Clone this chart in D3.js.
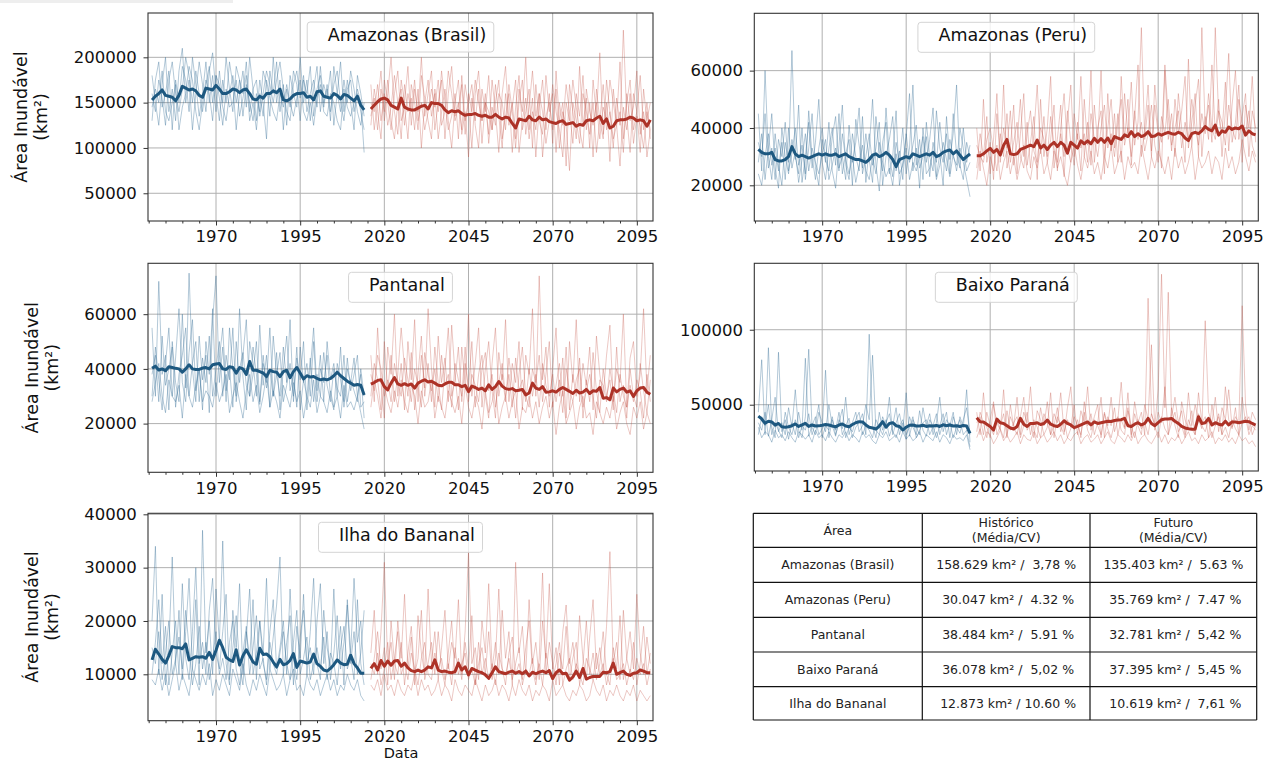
<!DOCTYPE html>
<html>
<head>
<meta charset="utf-8">
<script src="https://cdn.jsdelivr.net/npm/d3@7"></script>
<style>
  body { margin: 0; background: #fff; }
  text { font-family: "DejaVu Sans", sans-serif; }
</style>
</head>
<body>
<svg id="chart" width="1263" height="762"></svg>
<script>
// all values in thousand km²
const HIST_START = 1951, FUT_START = 2016;
const xMajor = [1970, 1995, 2020, 2045, 2070, 2095];
const xMinor = [1950, 1955, 1960, 1965, 1975, 1980, 1985, 1990, 2000, 2005, 2010, 2015,
  2025, 2030, 2035, 2040, 2050, 2055, 2060, 2065, 2075, 2080, 2085, 2090];

// --- Amazonas (Brasil)
const amzBrHist = [153,157,160,164,158,157,156,152,158,168,
  166,164,165,163,158,156,166,165,164,169,
  165,160,160,162,165,164,161,164,165,160,
  154,153,157,155,160,160,163,161,165,153,
  152,154,158,160,160,161,156,157,153,162,
  163,157,156,155,160,158,154,159,158,155,
  152,157,147,142];
const amzBrHistRuns = [
  [180,150,125,170,200,140,165,130,185,210,150,175,120,160,195,170,140,185,205,160,130,175,150,195,170,120,160,185,145,200,165,130,175,150,110,185,160,195,140,170,125,180,160,145,200,150,175,130,165,190,140,170,155,185,125,160,195,140,175,150,120,180,160,135],
  [130,175,195,145,160,185,120,175,150,190,175,140,200,170,135,160,195,150,180,140,185,150,200,165,140,190,175,135,170,150,130,160,140,185,170,135,200,150,175,120,165,145,185,170,130,175,160,190,135,165,180,145,170,130,190,160,140,175,150,185,165,140,125,150],
  [160,140,175,155,125,175,195,160,140,165,200,180,150,185,160,140,170,190,150,180,170,145,130,160,180,150,175,160,195,140,165,175,135,160,185,170,150,175,195,165,140,130,170,185,155,180,140,160,175,145,190,150,165,140,170,185,150,130,165,175,140,165,150,95],
  [145,165,150,185,140,130,150,170,120,145,160,190,175,140,120,150,175,160,130,180,155,125,165,145,150,175,135,155,180,130,150,120,160,135,175,155,140,130,160,145,170,150,135,155,175,140,130,150,125,155,170,140,135,160,150,130,120,165,145,135,150,160,140,120]
];
const amzBrFut = [143,147,151,154,155,153,147,145,143,155,
  145,143,142,142,144,146,147,143,150,149,
  149,147,142,139,141,140,141,138,136,137,
  137,138,136,135,136,134,134,137,134,132,
  134,133,127,122,132,131,130,135,131,130,
  134,131,132,129,128,127,129,130,126,127,
  128,124,126,125,130,131,130,133,135,127,
  132,122,124,130,131,131,132,134,133,130,
  131,130,124,131];
const amzBrFutRuns = [
  [170,120,150,185,130,160,200,140,115,175,150,190,125,165,140,200,135,160,185,120,150,175,110,160,190,135,150,120,170,145,100,160,185,130,150,115,175,140,95,160,190,130,150,110,165,140,200,120,155,90,145,175,120,160,105,185,130,150,80,170,140,110,190,125,155,100,175,135,205,115,150,85,165,130,195,110,150,175,120,140,95,165,130,150],
  [125,165,140,110,175,150,120,160,185,130,145,110,170,150,120,180,155,130,110,165,140,185,150,120,135,160,110,180,130,150,170,125,100,165,140,180,120,150,175,110,135,160,95,145,180,120,140,165,100,170,130,115,180,140,160,95,150,125,170,140,105,160,135,180,120,150,90,165,130,110,175,140,100,155,125,230,135,95,160,140,180,120,150,110],
  [150,140,170,130,160,125,145,180,150,110,170,140,155,120,165,100,150,175,135,160,110,140,165,130,100,150,175,115,140,90,155,130,165,105,150,140,120,170,135,100,160,125,145,175,95,130,155,110,140,120,160,90,135,150,120,165,100,140,125,75,150,130,105,160,140,115,150,95,130,170,120,140,110,125,80,145,120,160,105,135,125,100,140,120],
  [135,155,120,165,140,175,130,110,150,165,125,160,140,175,130,150,120,140,165,145,175,125,140,185,160,130,145,170,115,160,140,175,150,130,160,105,145,125,160,150,120,170,140,100,150,175,115,145,185,135,160,140,105,130,170,140,120,90,150,130,175,145,120,100,165,140,125,150,110,145,130,175,150,125,140,95,160,130,145,185,115,140,90,120]
];

// --- Amazonas (Peru)
const amzPeHist = [32.5,31.5,31,31,31.5,29,28.5,28.5,29,30,
  33.5,31,30,30.5,30,29.5,30,30.5,31,30.5,
  31,30.5,30.5,31,30,30.5,31,30,29.5,29,
  29,28.5,28,29,30.5,31,30,30.5,31.5,30.5,
  29,26.5,29,29.5,30,29.5,31,30.5,30,30.5,
  31,30.5,31.5,30,30.5,31.5,32,32.3,31,32,
  30.5,29,30,31];
const amzPeHistRuns = [
  [45,25,60,30,22,38,27,20,35,28,67,30,24,40,22,33,45,26,20,36,28,42,25,19,34,48,27,22,38,30,25,44,21,33,50,27,18,35,42,24,30,46,20,28,37,52,25,33,19,40,28,36,47,23,31,20,44,29,38,55,27,22,35,30],
  [28,38,22,33,45,26,19,40,30,24,36,29,48,21,30,42,26,35,50,28,22,33,40,27,45,24,31,36,20,43,34,26,38,29,21,44,32,25,47,30,23,35,28,40,24,33,55,27,36,22,42,30,25,46,33,28,38,24,45,31,26,40,28,34],
  [35,30,45,26,33,22,36,30,42,25,31,40,27,34,24,46,30,22,33,40,29,25,37,44,26,30,22,41,28,35,47,24,30,38,27,33,42,20,30,36,44,25,32,22,38,28,34,41,26,30,37,23,35,28,42,31,25,36,30,27,40,33,25,28],
  [24,20,30,38,27,33,25,35,22,40,26,32,21,29,38,25,33,28,24,31,36,22,27,33,25,38,29,24,30,21,27,34,25,22,30,24,35,28,23,26,20,31,24,27,33,22,28,25,30,37,24,26,32,22,27,35,29,23,31,25,33,28,22,16]
];
const amzPeFut = [30.3,30.3,31,32,32.9,31.5,32.5,30.6,34,36,
  31,30.7,31,32.5,33,33.5,34,33.5,35.8,33,
  34,32.5,34,35,33.5,35,34,31.2,35,34,
  33,35.5,34.5,35.5,34.5,36.4,35,36.3,35,36.5,
  34.5,37,36.5,36,37.6,37,38.7,37,38,37,
  37.5,38.7,37,37.2,38,37.5,38,38.5,38,37.8,
  38.5,38,36.5,35.6,38,38.5,38,39,40.5,39.5,
  39,41,37.5,39,38.5,40.3,39.5,40,39.7,40.7,
  37.5,39,38,37.6];
const amzPeFutRuns = [
  [40,25,50,28,35,22,45,30,55,26,33,48,24,38,52,27,35,44,22,50,30,40,58,26,36,48,23,42,55,30,38,25,50,34,60,28,40,46,24,52,32,45,28,58,36,50,27,44,62,30,40,55,32,48,38,26,60,36,45,30,52,40,28,64,34,48,57,30,44,36,62,38,50,30,46,66,35,42,55,28,48,40,58,35],
  [26,38,30,44,24,36,52,28,40,33,46,27,35,50,30,42,26,38,55,31,44,28,36,48,25,40,52,33,28,45,36,58,30,42,27,48,35,60,30,40,50,33,45,28,52,38,56,34,42,75,36,48,30,55,40,35,62,44,32,50,38,46,58,33,42,52,30,75,40,48,35,75,44,38,56,32,48,60,36,44,52,30,46,40],
  [34,30,28,36,40,32,25,38,30,45,28,35,42,30,26,38,46,32,28,40,36,30,44,33,28,38,30,46,35,27,42,33,38,28,45,36,30,40,48,33,38,30,42,50,34,40,30,46,36,42,32,38,48,34,28,44,38,50,34,40,46,33,42,36,50,40,34,45,38,52,40,36,46,42,34,48,40,36,50,42,38,46,34,30],
  [22,32,26,20,30,25,34,22,28,32,24,30,22,28,34,25,22,30,26,33,24,28,22,32,26,30,24,20,28,34,27,22,30,26,32,24,28,22,30,26,34,24,28,32,22,30,26,28,24,34,28,22,30,26,32,28,24,30,22,33,26,30,24,28,34,22,30,26,28,32,24,30,28,22,33,26,30,24,28,36,30,25,32,28]
];

// --- Pantanal
const pantHist = [40.2,41,39.6,40,39.3,40.8,40.5,40.2,40,38.8,
  40,41.5,40,39.8,39.8,40.3,40.5,40,41.5,41.8,
  42,40,39.8,40.8,40.5,38.4,40.5,40,38,42.7,
  39.5,39.5,39,38.5,37.2,39.5,39,38.8,37.2,39,
  39.5,36.8,39,40.5,38.5,36.3,37.5,37,37.2,36.5,
  36,36.3,36,36.5,37.5,38.8,37.5,36.5,35.5,34.8,
  34,34.3,34,30.5];
const pantHistRuns = [
  [55,30,72,38,45,25,50,35,28,60,33,75,40,28,52,36,45,24,58,74,35,48,28,55,40,30,62,37,25,50,42,30,56,34,45,26,52,38,30,48,35,58,28,44,36,50,25,40,55,32,45,28,50,36,42,30,48,26,40,35,44,30,38,22],
  [30,48,36,25,42,55,30,44,62,35,28,46,58,32,40,25,50,38,62,30,44,55,32,40,26,50,35,45,58,30,38,50,27,42,35,55,30,46,25,40,52,32,38,26,48,35,42,30,50,28,40,35,45,30,25,42,36,28,44,32,38,45,26,28],
  [38,45,28,52,34,40,48,26,38,45,55,30,42,50,28,44,35,52,30,40,50,30,45,36,55,28,40,46,34,30,48,38,28,45,33,40,30,38,46,28,34,42,30,48,25,36,30,44,28,38,30,46,34,28,40,33,30,45,28,36,32,28,40,30],
  [28,35,42,30,24,36,30,28,34,22,38,30,26,34,40,28,32,30,26,35,28,32,38,24,30,35,28,22,32,38,28,34,24,30,38,26,32,28,22,34,30,26,35,28,32,22,30,26,36,24,30,28,24,32,26,30,22,34,26,28,25,30,24,18]
];
const pantFut = [34.4,35,35.8,36,33.5,32.3,34.8,36.8,34.5,34,
  34.6,34,34.5,33,34.8,35.5,36,35.2,35.5,34.8,
  34,33.8,34.5,35.1,35.1,34.2,34.2,33.5,34,31.7,
  33.7,33.2,32.5,33,32,34.2,32.5,33.5,35.4,33.7,
  32.8,32.5,32.8,32,32.2,32.5,30.5,31.2,34.8,33,
  32.5,33.5,31.5,31.6,32,31.5,32.5,33.2,32.5,31.8,
  31,32.2,31.2,31.5,32.5,31,32,31.8,33.2,29.3,
  29.5,28.7,33,31.6,32.5,33,31.5,32,29.9,32,
  33,33.2,31.5,30.7];
const pantFutRuns = [
  [45,28,55,35,22,48,38,60,30,42,25,50,36,58,28,45,33,62,40,26,52,35,44,28,56,38,25,48,34,60,30,42,55,26,40,50,32,22,46,36,58,28,42,35,50,25,45,38,62,30,74,36,48,26,40,55,30,44,22,50,35,58,28,42,34,48,25,52,38,30,45,56,28,40,35,60,26,44,50,30,38,62,32,45],
  [30,42,36,25,50,32,45,28,38,55,40,30,46,25,38,52,30,42,28,48,35,25,40,55,30,36,48,28,42,33,50,26,38,45,30,22,42,55,30,38,28,44,34,22,38,48,30,26,40,35,45,28,38,50,26,34,42,30,48,25,38,30,44,22,36,28,46,32,24,40,30,36,25,48,28,34,22,40,30,26,42,32,24,36],
  [38,32,45,40,30,36,28,42,35,30,44,36,28,40,34,26,46,38,32,40,28,45,34,38,26,42,36,30,48,28,38,34,28,40,46,32,38,26,35,42,30,38,26,44,32,36,28,40,30,38,26,42,34,30,38,28,36,24,40,32,28,36,40,26,32,38,30,22,36,34,28,40,32,24,38,30,26,34,28,36,32,22,38,28],
  [26,36,30,22,34,28,24,32,26,36,28,24,34,30,20,32,26,28,36,22,30,26,22,32,28,24,30,20,34,26,22,30,26,18,32,24,28,34,20,26,30,22,28,32,18,26,24,30,22,28,20,26,30,22,28,16,26,32,20,24,28,18,26,30,22,24,16,28,24,20,26,22,30,18,24,28,20,16,26,22,28,18,24,20]
];

// --- Baixo Paraná
const bpHist = [42.4,40.5,37.6,39,38.5,36.4,37.5,35.3,35,35.3,
  36,37.2,35.5,36.5,37.6,35.5,36.5,35.8,35.9,36.3,
  36.8,36.5,35.8,35.2,36.5,37.2,35.8,35.3,36.8,38,
  38.7,38.5,36.5,35,34.5,33.8,35.8,38.7,35,37.5,
  38,36,35.5,33.1,35,36.3,36.5,35.8,35.8,36.3,
  35.5,36,35.8,36.2,35.5,36.6,36,36.5,35.8,36,
  35.5,36.2,35.8,30.9];
const bpHistRuns = [
  [45,80,30,88,35,28,85,32,40,27,38,30,45,33,81,29,36,42,30,34,73,28,40,33,45,30,36,41,28,35,38,44,30,97,36,28,45,33,40,29,36,48,30,38,27,42,35,30,46,33,29,40,36,44,30,38,45,28,42,35,31,40,48,30],
  [38,33,45,29,40,55,32,38,30,48,35,60,33,28,42,87,35,30,45,38,32,50,36,29,40,34,55,30,38,45,32,36,50,40,83,33,30,42,36,55,30,38,44,33,58,29,40,35,30,48,36,44,30,38,55,32,40,36,45,30,42,35,60,25],
  [30,42,36,50,30,38,33,28,45,35,30,40,28,36,33,44,30,38,50,28,36,33,42,30,38,47,28,35,32,40,45,30,36,33,28,40,35,30,38,44,32,28,36,40,30,35,42,28,33,38,40,30,35,28,36,44,30,38,28,35,40,30,33,22],
  [35,28,32,30,25,33,28,30,26,32,28,25,32,30,27,30,25,33,28,30,26,32,28,25,30,28,32,26,30,28,25,32,28,30,26,24,30,28,32,26,28,30,25,32,27,30,26,28,32,25,30,28,26,32,25,30,28,24,30,27,28,26,30,20]
];
const bpFut = [41.3,38.7,38.5,37,35.5,33.1,40.4,38,37.5,36,
  34.5,33.8,35.5,40.9,37,35.5,37.5,37.5,38,36.8,
  37.5,39.8,37,36,35.5,37,39.3,37.5,36.5,34.7,
  35.5,36.5,37.5,38.5,36.5,38.5,37.5,38,38.5,39,
  38.8,39.5,39.8,40,40.9,36,35.5,37,38,36.5,
  37.5,40.9,37.5,36,38,40,40.5,40.5,40.8,39,
  37.5,35.5,34.5,34,33.7,33.7,42,37.5,38,40.9,
  36.5,38,37,36.5,39,36.5,38.5,38.5,38,38.5,
  39,38.7,37.5,36.4];
const bpFutRuns = [
  [45,30,58,35,28,50,38,33,60,30,42,36,55,30,45,38,62,33,28,48,36,52,30,44,38,58,32,40,35,50,30,46,38,62,33,42,50,28,45,36,55,32,40,65,35,48,30,52,38,45,30,121,44,36,60,137,48,125,42,55,38,46,30,58,36,50,40,34,106,45,38,55,32,48,40,60,35,42,38,116,50,33,45,40],
  [32,45,38,28,40,52,30,36,44,28,50,35,30,42,55,33,38,28,46,40,30,35,58,28,42,36,30,48,62,33,40,28,52,36,44,30,38,55,28,42,36,48,30,40,34,58,28,44,36,30,50,40,90,33,45,38,62,30,48,36,28,52,40,34,46,30,58,38,42,28,50,36,44,30,62,40,34,48,30,55,38,42,30,36],
  [38,42,30,45,36,30,40,34,28,46,33,38,42,28,36,45,30,40,35,28,44,38,30,36,48,32,40,28,34,42,36,30,45,33,28,40,36,30,44,34,28,38,42,33,30,46,36,28,40,34,38,30,44,36,28,42,34,30,38,45,32,36,28,40,34,30,44,36,32,40,28,36,42,30,35,28,40,34,30,38,42,30,36,33],
  [28,34,26,32,30,24,28,33,26,30,25,28,32,24,30,27,26,32,24,28,30,25,28,32,26,30,24,28,26,30,32,24,28,30,25,27,30,24,28,32,26,24,30,28,25,30,26,32,24,28,30,26,24,28,32,25,30,24,28,26,30,24,28,32,26,28,24,30,26,28,32,24,28,26,30,25,28,24,30,26,28,24,26,22]
];

// --- Ilha do Bananal
const ibHist = [12.7,14.7,13.8,12.8,12.1,13.5,15.2,15,15,14.8,
  15.7,12.7,13,13.3,13.2,13.3,13,14.1,12.8,14.5,
  16.4,15,13.2,12.7,12.4,14.6,11.75,13.5,14.6,13.5,
  12.3,11.9,14.9,13.7,13.8,13.3,12.3,11.4,12.8,11.8,
  12,12.6,13.9,11.3,12.5,12.3,12.1,12.3,13.8,12,
  11.5,10.8,10.6,11.1,11.8,12.7,12.1,11.8,11.9,13.6,
  12,11.2,10.2,10.2];
const ibHistRuns = [
  [20,34,10,25,8,15,32,12,22,9,18,28,11,24,8,37,14,20,10,26,16,35,12,8,22,15,27,10,18,13,24,9,20,14,28,11,17,23,32,10,16,21,8,19,13,25,10,18,28,12,9,22,15,11,26,13,19,8,24,14,28,16,20,10],
  [10,16,24,12,19,8,14,20,10,27,13,9,18,30,12,16,10,22,28,14,11,18,25,9,15,21,12,8,17,26,10,14,20,12,9,18,24,11,15,20,10,26,13,9,17,22,12,15,10,20,27,12,18,9,14,21,11,16,23,12,18,10,14,22],
  [15,12,18,9,14,20,10,13,17,11,22,15,8,12,19,11,16,9,13,18,10,13,9,16,20,11,8,14,19,10,15,21,11,13,8,16,12,10,14,18,12,9,16,22,10,13,17,9,12,15,11,17,9,14,12,8,15,19,11,13,9,24,12,8],
  [9,8,11,7,10,6,9,12,7,10,8,6,11,9,7,10,8,12,6,9,7,10,8,6,11,9,7,12,8,6,9,7,10,8,6,11,9,7,8,10,6,9,11,7,8,6,10,8,7,9,6,8,10,7,9,6,8,7,10,8,7,9,6,5]
];
const ibFut = [11.1,12,10.8,12.6,11.5,12.5,11.7,12.5,12.6,11.5,
  12.1,11.2,10.7,10.5,10.8,10.5,10.8,11.4,11.2,12.7,
  10.8,10.5,10.6,10.4,10.3,10.5,12.1,10.8,11.4,9.9,
  11.1,10.8,10.5,10.3,9.9,9.25,10.3,11.4,10.5,10.3,
  10.1,10.4,10.6,10.2,10.5,10.1,10.6,9.7,10.4,10.1,
  10.4,10.6,10.3,10.7,9.2,10.3,10.8,10.1,10.2,8.9,
  9.5,10.6,9.4,11.1,9.1,9.4,9.6,9.6,9.6,10.4,
  10.3,10.5,12.1,10,10.3,10.6,10,9.8,10.2,10.3,
  10.8,10.6,10.3,10.3];
const ibFutRuns = [
  [14,22,10,18,31,12,16,9,20,13,25,11,17,8,21,14,10,26,12,18,9,15,22,11,16,13,24,10,18,33,12,15,9,20,14,27,11,16,10,22,13,18,8,31,14,19,10,24,12,16,9,20,13,27,11,15,8,18,23,12,16,10,21,13,9,17,24,11,15,10,19,33,12,16,9,22,13,18,11,25,14,10,17,12],
  [9,13,18,11,15,8,20,12,10,16,8,14,19,10,13,22,9,12,16,10,18,11,8,14,20,10,13,9,16,11,21,8,12,15,10,18,9,13,26,11,8,14,17,10,12,9,15,20,11,8,13,29,10,16,12,8,14,11,19,9,13,16,8,12,20,10,14,9,12,18,10,8,15,11,21,9,13,10,16,8,12,19,10,14],
  [12,10,14,8,11,16,9,13,18,10,12,9,14,11,8,13,16,10,9,14,11,13,9,12,8,15,10,12,14,9,11,8,16,10,13,9,12,8,14,11,10,13,9,12,15,8,11,10,13,9,12,8,14,10,9,12,16,8,11,13,9,12,10,8,13,11,9,14,10,12,8,11,13,9,10,12,8,11,9,13,10,12,8,11],
  [8,7,9,6,10,7,8,6,9,7,6,8,7,10,6,9,7,8,6,7,9,6,8,7,5,9,7,6,8,7,6,9,7,5,8,6,7,9,6,8,7,5,8,6,9,7,6,8,5,7,6,8,7,5,9,6,7,8,6,5,7,6,8,7,5,6,9,7,6,8,5,7,6,8,6,5,7,6,8,5,7,6,5,6]
];

// --- summary table
const tableHeader = ["Área", "Histórico\n(Média/CV)", "Futuro\n(Média/CV)"];
const tableAreas = ["Amazonas (Brasil)", "Amazonas (Peru)", "Pantanal", "Baixo Paraná", "Ilha do Bananal"];
const tableHist = ["158.629 km² /  3,78 %", " 30.047 km² /  4.32 %", " 38.484 km² /  5.91 %", " 36.078 km² /  5,02 %", " 12.873 km² / 10.60 %"];
const tableFut = ["135.403 km² /  5.63 %", " 35.769 km² /  7.47 %", " 32.781 km² /  5,42 %", " 37.395 km² /  5,45 %", " 10.619 km² /  7,61 %"];

// layout
const panels = [
  {title: "Amazonas (Brasil)", hist: amzBrHist, histRuns: amzBrHistRuns, fut: amzBrFut, futRuns: amzBrFutRuns,
   x0: 148, x1: 653, y0: 13, y1: 221, yMin: 19.4, yMax: 248.9, yTicks: [50, 100, 150, 200], ylab: true},
  {title: "Amazonas (Peru)", hist: amzPeHist, histRuns: amzPeHistRuns, fut: amzPeFut, futRuns: amzPeFutRuns,
   x0: 754.3, x1: 1258.3, y0: 13.3, y1: 221, yMin: 7.55, yMax: 80, yTicks: [20, 40, 60], ylab: false},
  {title: "Pantanal", hist: pantHist, histRuns: pantHistRuns, fut: pantFut, futRuns: pantFutRuns,
   x0: 148, x1: 653, y0: 263.3, y1: 472.3, yMin: 2.2, yMax: 78.6, yTicks: [20, 40, 60], ylab: true},
  {title: "Baixo Paraná", hist: bpHist, histRuns: bpHistRuns, fut: bpFut, futRuns: bpFutRuns,
   x0: 754.3, x1: 1258.3, y0: 263.3, y1: 471, yMin: 5.8, yMax: 144.3, yTicks: [50, 100], ylab: false},
  {title: "Ilha do Bananal", hist: ibHist, histRuns: ibHistRuns, fut: ibFut, futRuns: ibFutRuns,
   x0: 148, x1: 653, y0: 513.3, y1: 720.7, yMin: 1.3, yMax: 40.19, yTicks: [10, 20, 30, 40], ylab: true}
];

const HIST_COLOR = "#1d5880", FUT_COLOR = "#ad3227";
const HIST_RUN = "#3a7299", FUT_RUN = "#c4574c";

const svg = d3.select("#chart");
svg.append("rect").attr("x", 0).attr("y", 0).attr("width", 233).attr("height", 3).attr("fill", "#eeeeee");

panels.forEach(function (p, pi) {
  const g = svg.append("g");
  const x = d3.scaleLinear().domain([1949.8, 2099.8]).range([p.x0, p.x1]);
  const y = d3.scaleLinear().domain([p.yMin, p.yMax]).range([p.y1, p.y0]);

  g.append("clipPath").attr("id", "clip" + pi)
    .append("rect").attr("x", p.x0).attr("y", p.y0).attr("width", p.x1 - p.x0).attr("height", p.y1 - p.y0);

  // grid
  g.append("g").selectAll("line").data(xMajor).join("line")
    .attr("x1", d => x(d)).attr("x2", d => x(d)).attr("y1", p.y0).attr("y2", p.y1)
    .attr("stroke", "#b0b0b0").attr("stroke-width", 1);
  g.append("g").selectAll("line").data(p.yTicks).join("line")
    .attr("x1", p.x0).attr("x2", p.x1).attr("y1", d => y(d)).attr("y2", d => y(d))
    .attr("stroke", "#b0b0b0").attr("stroke-width", 1);

  const plot = g.append("g").attr("clip-path", "url(#clip" + pi + ")");
  const lineFrom = start => d3.line().x((d, i) => x(start + i)).y(d => y(d));

  plot.selectAll(".hrun").data(p.histRuns).join("path")
    .attr("d", lineFrom(HIST_START)).attr("fill", "none")
    .attr("stroke", HIST_RUN).attr("stroke-opacity", 0.38).attr("stroke-width", 1);
  plot.selectAll(".frun").data(p.futRuns).join("path")
    .attr("d", lineFrom(FUT_START)).attr("fill", "none")
    .attr("stroke", FUT_RUN).attr("stroke-opacity", 0.33).attr("stroke-width", 1);

  plot.append("path").datum(p.hist).attr("d", lineFrom(HIST_START))
    .attr("fill", "none").attr("stroke", HIST_COLOR).attr("stroke-width", 3).attr("stroke-linejoin", "round");
  plot.append("path").datum(p.fut).attr("d", lineFrom(FUT_START))
    .attr("fill", "none").attr("stroke", FUT_COLOR).attr("stroke-width", 3).attr("stroke-linejoin", "round");

  // axes
  const xAxis = g.append("g").attr("transform", "translate(0," + p.y1 + ")")
    .call(d3.axisBottom(x).tickValues(xMajor).tickFormat(d3.format("d")).tickSize(4.5).tickPadding(5).tickSizeOuter(0));
  g.append("g").attr("transform", "translate(0," + p.y1 + ")")
    .call(d3.axisBottom(x).tickValues(xMinor).tickFormat("").tickSize(2.5).tickSizeOuter(0))
    .select(".domain").remove();
  const yAxis = g.append("g").attr("transform", "translate(" + p.x0 + ",0)")
    .call(d3.axisLeft(y).tickValues(p.yTicks).tickFormat(d => d3.format("d")(d * 1000)).tickSize(4.5).tickPadding(6.8).tickSizeOuter(0));
  [xAxis, yAxis].forEach(a => {
    a.attr("font-family", null).attr("font-size", null);
    a.selectAll("text").style("font-size", "16.5px").attr("fill", "#111");
    a.select(".domain").remove();
  });
  g.selectAll(".tick line").attr("stroke", "#333");

  // frame
  g.append("rect").attr("x", p.x0).attr("y", p.y0).attr("width", p.x1 - p.x0).attr("height", p.y1 - p.y0)
    .attr("fill", "none").attr("stroke", "#333").attr("stroke-width", 1.1);

  // legend
  const cx = (p.x0 + p.x1) / 2;
  const lg = g.append("g");
  const box = lg.append("rect");
  const lt = lg.append("text").text(p.title).style("font-size", "17.5px").attr("fill", "#111");
  const w = lt.node().getComputedTextLength() + 28;
  const bx = cx - w / 2, by = p.y0 + 9;
  box.attr("x", bx).attr("y", by).attr("width", w).attr("height", 30).attr("rx", 3)
    .attr("fill", "#fff").attr("fill-opacity", 0.8).attr("stroke", "#d4d4d4").attr("stroke-width", 1);
  lt.attr("x", bx + 20.5).attr("y", by + 18.5);

  // y label
  if (p.ylab) {
    let minX = 0;
    yAxis.selectAll("text").each(function () { minX = Math.min(minX, this.getBBox().x); });
    const base2 = p.x0 + minX - 26.5;
    const cy = (p.y0 + p.y1) / 2;
    [["Área Inundável", base2 - 20], ["(km²)", base2]].forEach(function (l) {
      g.append("text").attr("transform", "translate(" + l[1] + "," + cy + ") rotate(-90)")
        .attr("text-anchor", "middle").style("font-size", "17.4px").attr("fill", "#111").text(l[0]);
    });
  }
});

svg.append("text").attr("x", 401).attr("y", 757.5).attr("text-anchor", "middle")
  .style("font-size", "14.5px").attr("fill", "#111").text("Data");

// table
const colX = [753.3, 922.3, 1090, 1256.7];
const rowY = [513.3, 547.3, 582.3, 617.3, 652, 686.7, 720];
const tg = svg.append("g");
const rows = [tableHeader].concat(tableAreas.map((a, i) => [a, tableHist[i], tableFut[i]]));
rows.forEach(function (r, ri) {
  r.forEach(function (cell, ci) {
    const cxx = (colX[ci] + colX[ci + 1]) / 2, cyy = (rowY[ri] + rowY[ri + 1]) / 2;
    const lines = cell.split("\n");
    lines.forEach(function (ln, li) {
      tg.append("text").attr("x", cxx).attr("y", cyy + (li - (lines.length - 1) / 2) * 15)
        .attr("dy", "0.36em").attr("text-anchor", "middle")
        .style("font-size", "12.5px").style("white-space", "pre").attr("fill", "#222").text(ln);
    });
  });
});
colX.forEach(cx => tg.append("line").attr("x1", cx).attr("x2", cx).attr("y1", rowY[0]).attr("y2", rowY[rowY.length - 1])
  .attr("stroke", "#111").attr("stroke-width", 1.2));
rowY.forEach(ry => tg.append("line").attr("x1", colX[0]).attr("x2", colX[colX.length - 1]).attr("y1", ry).attr("y2", ry)
  .attr("stroke", "#111").attr("stroke-width", 1.2));
</script>
</body>
</html>
